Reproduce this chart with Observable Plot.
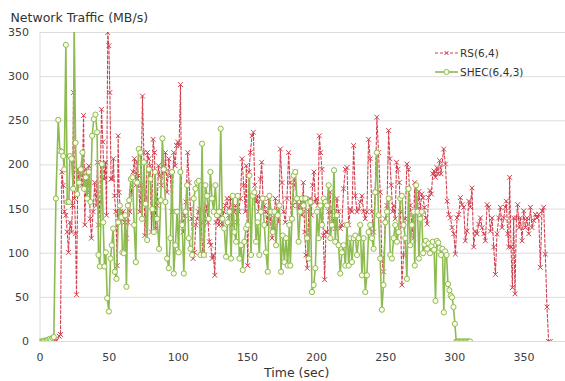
<!DOCTYPE html>
<html>
<head>
<meta charset="utf-8">
<script src="https://cdn.jsdelivr.net/npm/d3@7"></script>
<script src="https://cdn.jsdelivr.net/npm/@observablehq/plot@0.6"></script>
<style>
  html, body { margin: 0; padding: 0; background: #fff; }
  #chart { width: 565px; height: 381px; }
</style>
</head>
<body>
<div id="chart"></div>
<script>
// ---------- data ----------
const seriesNames = ["RS(6,4)", "SHEC(6,4,3)"];
const xTicks = [0, 50, 100, 150, 200, 250, 300, 350];
const yTicks = [0, 50, 100, 150, 200, 250, 300, 350];
const chartTitle = "Network Traffic (MB/s)";
const xTitle = "Time (sec)";

// SHEC(6,4,3): time (sec)
const shecTime = [
  0,1,2,3,4,5,6,7,8,9,10,
  11.5,13.2,14.4,15.6,16.8,17.5,18.7,19.7,20.9,21.6,
  22.8,24.0,24.7,25.7,26.9,28.3,29.5,30.7,31.9,33.1,
  34.1,35.3,36.5,37.7,38.9,40.1,41.3,42.3,43.3,44.7,
  45.7,46.6,47.6,48.6,49.8,51.0,51.9,52.9,54.1,55.3,
  56.5,57.7,58.9,59.6,60.6,61.6,62.5,63.5,64.5,65.7,
  66.9,68.1,69.3,70.2,71.4,72.6,73.8,75.1,76.3,77.5,
  78.7,79.9,81.3,82.3,83.2,84.7,86.1,87.3,88.5,
  89.5,90.7,91.9,93.1,94.3,95.5,96.7,97.9,99.1,100.3,
  101.5,102.8,104.0,105.2,106.4,107.6,108.8,110.0,111.2,112.4,
  113.6,114.8,116.0,117.2,118.4,119.6,120.8,122.0,123.2,124.4,
  125.6,126.8,128.0,129.5,130.7,131.9,133.3,134.5,135.7,137.0,
  138.2,139.4,140.6,141.8,143.0,144.2,145.4,146.6,147.8,149.0,
  150.2,151.4,152.6,153.8,155.0,156.2,157.4,158.6,159.8,161.0,
  162.2,163.4,164.7,165.9,167.1,168.3,169.5,170.7,171.9,173.1,
  174.3,175.5,176.7,177.9,179.1,180.3,
  181.0,182.2,183.4,184.6,185.8,187.0,188.2,189.4,190.6,191.9,
  193.1,194.3,195.5,196.7,197.9,199.1,200.3,201.5,202.7,203.9,
  205.1,206.3,207.5,208.7,209.9,211.1,212.6,213.5,214.7,215.9,
  217.1,218.3,219.5,220.8,222.0,223.2,224.4,225.6,226.8,228.0,
  229.2,230.4,231.6,232.8,234.0,235.2,236.4,237.6,238.8,240.0,
  241.2,242.4,243.6,244.8,246.0,247.2,248.4,249.7,250.9,252.1,
  253.3,254.5,255.7,256.9,258.1,259.3,260.5,261.7,262.9,264.1,
  265.3,266.5,267.7,268.9,270.1,
  271,272,273,274,275,276,277,278,279,280,
  281,282,283,284,285,286,287,288,289,290,
  291,292,293,294,295,296,297,298,299,300,
  301,302,303,304,305,306,307,308,309,310,311
];
// SHEC(6,4,3): network traffic (MB/s)
const shecValue = [
  0,0,0,1,1,1,2,3,2,4,5,
  162,251,216,215,210,195,336,158,158,210,
  207,173,360,225,167,180,195,214,173,186,
  162,192,158,233,252,257,237,98,85,201,
  135,85,101,49,34,94,109,128,79,71,
  135,154,141,101,100,143,62,154,160,184,
  186,132,90,180,218,214,139,203,156,115,
  195,184,150,124,192,139,105,160,230,
  195,158,94,83,117,192,77,109,147,101,
  192,132,77,147,177,117,105,98,162,173,
  180,182,98,224,98,177,165,139,192,162,
  147,177,143,147,241,139,128,96,135,147,
  94,165,124,113,165,94,109,81,113,128,
  132,188,98,165,169,113,135,98,147,162,
  132,101,79,165,147,124,147,109,143,154,
  79,120,90,117,86,132,
  86,139,188,192,162,113,147,162,154,162,
  117,94,158,56,64,83,147,117,154,132,
  162,158,154,177,117,132,194,113,143,109,
  77,101,109,86,132,86,117,90,117,120,
  98,117,132,75,117,56,75,124,132,117,
  105,169,214,143,94,36,64,135,147,162,
  98,94,117,132,113,124,162,165,132,117,
  71,173,109,132,147,
  86,177,147,94,139,147,100,110,114,105,
  111,100,108,113,104,46,114,112,106,98,
  105,33,102,98,65,58,52,50,39,20,
  0,0,0,0,0,0,0,0,0,0,0
];

// RS(6,4): time (sec)
const rsTime = [
  0,1,2,3,4,5,6,7,8,9,10,11,12,13.9,14.8,
  15.8,16.8,17.7,18.7,19.7,20.6,21.6,22.8,23.5,24.2,
  25.0,25.7,26.4,27.4,28.3,29.3,30.5,31.5,32.4,33.4,
  34.4,35.3,36.3,37.2,38.4,39.6,40.6,41.6,42.3,43.3,
  44.5,45.4,46.4,47.4,48.1,49.0,49.8,50.5,51.4,52.4,
  53.1,53.9,54.8,55.8,56.5,57.2,58.2,59.2,60.1,61.3,
  62.5,63.7,64.9,66.1,67.3,68.3,69.3,70.2,71.2,72.2,
  73.1,74.1,75.1,75.8,76.7,77.7,78.7,79.6,80.6,81.8,
  82.8,83.7,84.7,85.7,86.6,87.8,89.0,90.2,
  90.7,91.9,93.1,94.3,95.5,96.7,97.7,98.7,99.6,100.6,
  101.6,102.5,103.5,104.4,105.6,106.8,107.8,108.8,109.7,110.7,
  111.7,112.6,113.6,114.6,115.5,116.5,117.7,118.7,119.6,120.6,
  121.5,122.5,123.5,124.4,125.4,126.4,127.3,128.5,129.5,130.5,
  131.7,132.9,134.1,135.3,136.5,137.7,138.9,140.1,141.3,142.5,
  143.7,144.9,146.1,147.3,148.5,149.2,150.2,151.2,152.1,153.3,
  154.3,155.3,156.2,157.2,158.1,159.4,160.3,161.3,162.2,163.2,
  164.2,165.4,166.6,167.8,169.0,170.2,171.4,172.6,173.8,175.0,
  176.2,177.4,178.6,179.8,
  180.8,181.7,182.7,183.7,184.6,185.6,186.6,187.5,188.5,189.4,
  190.4,191.4,192.3,193.3,194.3,195.2,196.2,197.1,198.1,199.1,
  200.0,201.0,202.0,202.9,203.9,204.9,205.8,206.8,207.7,208.7,
  209.7,210.6,211.6,212.6,213.5,214.7,215.9,217.1,218.3,219.5,
  220.8,222.0,223.2,224.4,225.6,226.8,228.0,229.2,230.4,231.6,
  232.8,234.0,235.2,236.4,237.6,238.8,240.0,241.2,242.4,243.6,
  244.8,246.0,247.2,248.4,249.7,250.9,252.1,253.0,254.0,255.0,
  255.9,256.9,257.8,258.8,259.8,260.7,261.7,262.9,264.1,265.3,
  266.5,267.7,268.9,270.1,
  271,272,273,274,275,276,277,278,279,280,
  281,282,283,284,285,286,287,288,289,290,
  291.9,293.2,294.4,295.6,296.8,298.0,299.2,300.4,301.6,302.8,
  304.0,305.2,306.4,307.6,308.8,310.0,311.2,312.4,313.6,314.8,
  316.0,317.2,318.5,319.7,320.9,322.1,323.3,324.5,325.7,326.9,
  328.1,329.3,330.5,331.7,332.9,334.1,335.3,336.5,337.2,338.2,
  338.9,339.6,340.6,341.6,342.5,343.5,344.5,345.4,346.4,347.4,
  348.6,349.8,351.0,352.2,353.4,354.6,355.8,357.0,358.2,359.4,
  360.6,361.8,363.0,364.2,365.4,366.6,367.8,369.0
];
// RS(6,4): network traffic (MB/s)
const rsValue = [
  0,0,0,0,0,0,0,0,0,0,0,0,1,6,8,
  192,177,147,143,124,101,135,124,154,282,
  162,122,53,195,180,192,177,256,132,195,
  169,199,139,117,147,180,154,203,132,158,
  263,226,184,203,143,350,335,282,184,184,
  207,165,147,86,233,169,147,139,147,135,
  117,135,147,169,192,207,177,203,188,147,
  177,278,214,120,162,214,207,199,124,229,
  214,128,154,199,188,177,199,192,
  214,169,207,188,147,214,199,222,226,222,
  291,135,124,143,158,214,180,150,139,94,
  101,132,139,147,150,135,101,98,147,154,
  135,113,109,94,98,75,135,139,132,147,
  132,147,154,162,143,162,132,147,154,135,
  147,162,207,177,147,199,86,192,214,233,
  237,177,158,165,147,184,203,162,154,147,
  132,162,139,117,128,162,147,135,218,180,
  147,135,162,214,
  180,139,154,177,192,158,154,147,162,143,
  180,124,98,83,147,162,143,177,192,158,
  162,154,233,214,195,120,70,124,124,147,
  169,147,139,132,128,162,147,128,132,173,
  195,197,132,150,147,222,165,147,150,158,
  165,147,139,147,229,207,147,124,169,254,
  214,169,94,79,139,154,239,207,177,147,
  154,139,203,195,180,147,64,98,139,201,
  195,154,132,117,
  180,162,150,170,150,167,163,152,140,133,
  163,171,167,190,193,186,197,190,205,190,
  218,201,159,144,140,129,122,99,140,144,
  163,155,152,114,125,159,152,174,107,125,
  122,133,140,129,122,114,155,152,125,140,
  107,76,122,140,152,129,140,152,159,122,
  107,186,107,61,140,54,140,155,129,140,
  114,148,129,140,122,152,129,137,144,140,
  144,84,148,152,99,39,0,0
];

// ---------- styles ----------
const rsColor = "#d2404f";
const shecColor = "#8dbb50";
const gridColor = "#dcdcdc";
const font = "'DejaVu Sans', Verdana, sans-serif";

const shec = shecTime.map((t, i) => ({t, v: shecValue[i], s: seriesNames[1]}));
const rs = rsTime.map((t, i) => ({t, v: rsValue[i], s: seriesNames[0]}));
if (shecTime.length !== shecValue.length || rsTime.length !== rsValue.length) {
  console.error("length mismatch", shecTime.length, shecValue.length, rsTime.length, rsValue.length);
}

const chart = Plot.plot({
  width: 565,
  height: 381,
  marginLeft: 39.5,
  marginRight: 0,
  marginTop: 32,
  marginBottom: 40,
  style: {fontFamily: font, fontSize: "11px", color: "#404040", background: "#fff"},
  x: {domain: [0, 380], ticks: xTicks},
  y: {domain: [0, 350], ticks: yTicks},
  marks: [
    Plot.gridY(yTicks, {stroke: gridColor, strokeOpacity: 1}),
    Plot.ruleX([0], {stroke: gridColor}),
    Plot.ruleY([0], {stroke: gridColor}),
    Plot.axisY(yTicks, {tickSize: 0, tickPadding: 11, label: null, fontSize: 11, fill: "#404040"}),
    Plot.axisX(xTicks, {tickSize: 0, tickPadding: 12, label: null, fontSize: 11, fill: "#404040"}),
    Plot.line(rs, {x: "t", y: "v", stroke: rsColor, strokeWidth: 1.1, strokeDasharray: "3,2", clip: true}),
    Plot.dot(rs, {x: "t", y: "v", symbol: "times", r: 2.3, stroke: rsColor, strokeWidth: 1, clip: true}),
    Plot.line(shec, {x: "t", y: "v", stroke: shecColor, strokeWidth: 1.6, clip: true}),
    Plot.dot(shec, {x: "t", y: "v", symbol: "circle", r: 2.6, stroke: shecColor, fill: "#fbfde9", strokeWidth: 1, clip: true}),
    Plot.text([chartTitle], {frameAnchor: "top-left", dx: -29.5, dy: -19.5, textAnchor: "start", fontSize: 12.5, fill: "#333"}),
    Plot.text([xTitle], {frameAnchor: "bottom", dx: -6, dy: 35, fontSize: 12.5, fill: "#333"})
  ]
});

// legend (decoration)
const svg = d3.select(chart);
const legend = svg.append("g")
  .attr("font-family", font).attr("font-size", 10.5).attr("fill", "#333")
  .attr("text-anchor", "start");
const items = [
  {name: seriesNames[0], color: rsColor, dash: "3,2", y: 53, sym: "x"},
  {name: seriesNames[1], color: shecColor, dash: null, y: 72, sym: "o"}
];
for (const it of items) {
  legend.append("line").attr("x1", 435).attr("x2", 458).attr("y1", it.y).attr("y2", it.y)
    .attr("stroke", it.color).attr("stroke-width", it.sym === "o" ? 1.6 : 1.1)
    .attr("stroke-dasharray", it.dash);
  if (it.sym === "x") {
    legend.append("path")
      .attr("d", `M444.5,${it.y - 2}L448.5,${it.y + 2}M448.5,${it.y - 2}L444.5,${it.y + 2}`)
      .attr("stroke", it.color).attr("fill", "none");
  } else {
    legend.append("circle").attr("cx", 446.5).attr("cy", it.y).attr("r", 2.6)
      .attr("stroke", it.color).attr("fill", "#fbfde9");
  }
  legend.append("text").attr("x", 460).attr("y", it.y).attr("dy", "0.35em")
    .attr("text-anchor", "start").text(it.name);
}

document.getElementById("chart").appendChild(chart);
</script>
</body>
</html>
